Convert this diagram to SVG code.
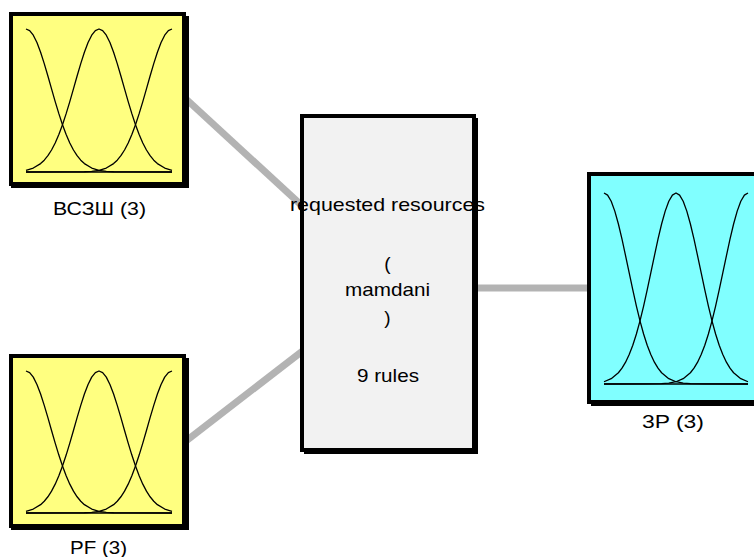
<svg xmlns="http://www.w3.org/2000/svg" xmlns:xlink="http://www.w3.org/1999/xlink" width="754" height="557" viewBox="0 0 754 557">
<style>
.shadow{fill:#000}
.box{stroke:#000;stroke-width:4}
.in{fill:#FFFF80}
.out{fill:#80FFFF}
.sys{fill:#F2F2F2}
.mf{fill:none;stroke:#000;stroke-width:1.3;stroke-linejoin:round;vector-effect:non-scaling-stroke}
.conn{stroke:#B3B3B3;stroke-width:7;fill:none}
text{font-family:"Liberation Sans",Arial,sans-serif;font-size:19px;fill:#000;text-anchor:middle}
</style>
<defs>
<g id="mfs">
<polyline class="mf" points="0,0 2.5,1.1 5,4.33 7.5,9.48 10,16.23 12.5,24.18 15,32.87 17.5,41.87 20,50.77 22.5,59.21 25,66.95 27.5,73.81 30,79.7 32.5,84.6 35,88.58 37.5,91.72 40,94.12 45,97.23 50,98.81 55,99.53 60,99.83 70,99.98 100,100"/>
<polyline class="mf" points="0,98.81 5,97.23 10,94.12 12.5,91.72 15,88.58 17.5,84.6 20,79.7 22.5,73.81 25,66.95 27.5,59.21 30,50.77 32.5,41.87 35,32.87 37.5,24.18 40,16.23 42.5,9.48 45,4.33 47.5,1.1 50,0 52.5,1.1 55,4.33 57.5,9.48 60,16.23 62.5,24.18 65,32.87 67.5,41.87 70,50.77 72.5,59.21 75,66.95 77.5,73.81 80,79.7 82.5,84.6 85,88.58 87.5,91.72 90,94.12 95,97.23 100,98.81"/>
<polyline class="mf" points="100,0 97.5,1.1 95,4.33 92.5,9.48 90,16.23 87.5,24.18 85,32.87 82.5,41.87 80,50.77 77.5,59.21 75,66.95 72.5,73.81 70,79.7 67.5,84.6 65,88.58 62.5,91.72 60,94.12 55,97.23 50,98.81 45,99.53 40,99.83 30,99.98 0,100"/>
<line class="mf" x1="0" y1="100" x2="100" y2="100"/>
</g>
</defs>
<g id="connectors">
<line class="conn" x1="186" y1="99" x2="388" y2="285"/>
<line class="conn" x1="186" y1="441" x2="388" y2="285"/>
<line class="conn" x1="388" y1="288" x2="590" y2="288"/>
</g>
<g id="input1">
<rect class="shadow" x="11" y="16" width="178" height="172"/>
<rect class="box in" x="11" y="14" width="173" height="170"/>
<use xlink:href="#mfs" transform="translate(26,29) scale(1.46,1.43)"/>
<text x="99.5" y="215" textLength="93" lengthAdjust="spacingAndGlyphs">ВСЗШ (3)</text>
</g>
<g id="input2">
<rect class="shadow" x="11" y="358" width="178" height="172"/>
<rect class="box in" x="11" y="356" width="173" height="170"/>
<use xlink:href="#mfs" transform="translate(26,371) scale(1.46,1.42)"/>
<text x="98.5" y="554" textLength="57" lengthAdjust="spacingAndGlyphs">PF (3)</text>
</g>
<g id="system">
<rect class="shadow" x="304" y="118" width="174" height="336"/>
<rect class="box sys" x="302" y="116" width="172" height="334"/>
<text x="387.5" y="211" textLength="195" lengthAdjust="spacingAndGlyphs">requested resources</text>
<text x="387.5" y="270">(</text>
<text x="387.5" y="296" textLength="85" lengthAdjust="spacingAndGlyphs">mamdani</text>
<text x="387.5" y="324">)</text>
<text x="388" y="382" textLength="62" lengthAdjust="spacingAndGlyphs">9 rules</text>
</g>
<g id="output1">
<rect class="shadow" x="591" y="176" width="200" height="230"/>
<rect class="box out" x="589" y="174" width="200" height="228"/>
<use xlink:href="#mfs" transform="translate(604,193) scale(1.44,1.91)"/>
<text x="673" y="428" textLength="62" lengthAdjust="spacingAndGlyphs">3P (3)</text>
</g>
</svg>
